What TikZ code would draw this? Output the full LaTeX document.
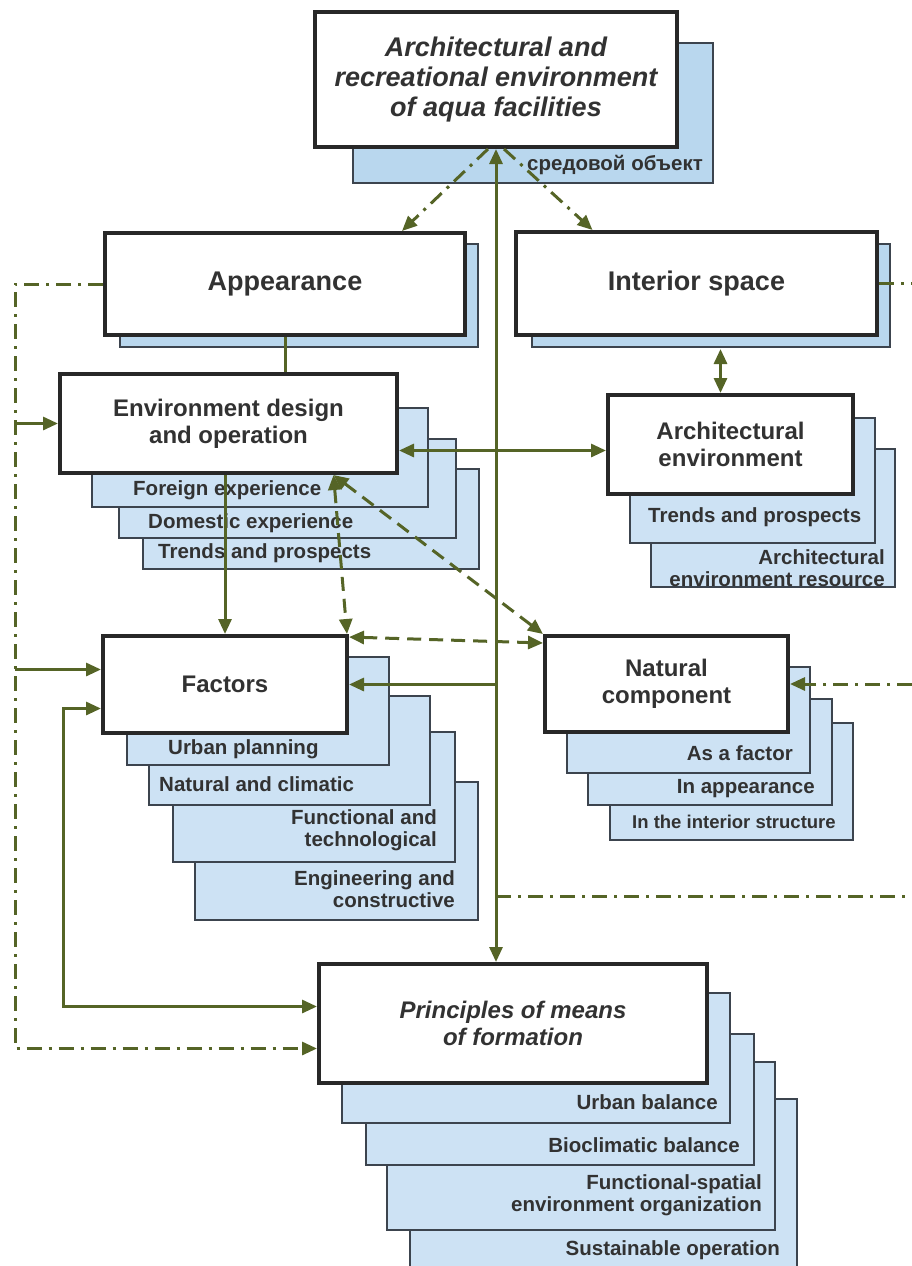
\documentclass[tikz,border=0pt]{standalone}
\usepackage{fontspec}
\setmainfont{Liberation Sans}
\usetikzlibrary{arrows.meta}

\definecolor{linegreen}{RGB}{85,100,38}
\definecolor{boxedge}{RGB}{40,40,40}
\definecolor{subedge}{RGB}{60,68,78}
\definecolor{shadeblue}{RGB}{185,215,238}
\definecolor{paleblue}{RGB}{205,226,244}
\definecolor{inkgray}{RGB}{50,50,50}

\newcommand{\sizeL}{\fontsize{27}{30}\selectfont}
\newcommand{\sizeM}{\fontsize{24}{27}\selectfont}
\newcommand{\sizeS}{\fontsize{20.5}{22}\selectfont}

\begin{document}
\begin{tikzpicture}[x=1pt,y=-1pt]
\tikzstyle{mainbox} = [rectangle, draw=boxedge, line width=4pt, fill=white,
text=inkgray, align=center, inner sep=0pt, font=\bfseries\sizeM]
\tikzstyle{subbox} = [draw=subedge, line width=2pt, fill=paleblue]
\tikzstyle{shadebox} = [draw=subedge, line width=2pt, fill=shadeblue]
\tikzstyle{subtext} = [text=inkgray, inner sep=0pt, align=right, font=\bfseries\sizeS]
\tikzstyle{link} = [draw=linegreen, line width=3pt, >={Triangle[length=15pt,width=13pt]}]
\tikzstyle{dashlink} = [link, dash pattern=on 14pt off 8pt]
\tikzstyle{dotlink} = [link, dash pattern=on 15pt off 7pt on 3pt off 7pt]

\useasboundingbox (0,0) rectangle (912,1266);

% shadows of the upper boxes
\draw[shadebox] (353,43) rectangle (713,183);
\draw[shadebox] (120,244) rectangle (478,347);
\draw[shadebox] (532,244) rectangle (890,347);

% stacked sheets, back to front
\foreach \xa/\ya/\xb/\yb in {143/469/479/569, 119/439/456/538, 92/408/428/507,
  651/449/895/587, 630/418/875/543,
  195/782/478/920, 173/732/455/862, 149/696/430/805, 127/657/389/765,
  610/723/853/840, 588/699/832/805, 567/667/810/773,
  410/1099/797/1290, 387/1062/775/1230, 366/1034/754/1165, 342/993/730/1123}
  \draw[subbox] (\xa,\ya) rectangle (\xb,\yb);

% main boxes
\node[mainbox, minimum width=362pt, minimum height=135pt, font=\bfseries\itshape\sizeL]
  (aqua) at (496,79.5) {Architectural and\\recreational environment\\of aqua facilities};
\node[mainbox, minimum width=360pt, minimum height=102pt, font=\bfseries\sizeL]
  (look) at (285,284) {Appearance};
\node[mainbox, minimum width=361pt, minimum height=103pt, font=\bfseries\sizeL]
  (inner) at (696.5,283.5) {Interior space};
\node[mainbox, minimum width=337pt, minimum height=99pt]
  (design) at (228.5,423.5) {Environment design\\and operation};
\node[mainbox, minimum width=245pt, minimum height=99pt]
  (archenv) at (730.5,444.5) {Architectural\\environment};
\node[mainbox, minimum width=244pt, minimum height=97pt]
  (factors) at (225,684.5) {Factors};
\node[mainbox, minimum width=243pt, minimum height=96pt]
  (nature) at (666.5,684) {Natural\\component};
\node[mainbox, minimum width=388pt, minimum height=119pt, font=\bfseries\itshape\sizeM]
  (means) at (513,1023.5) {Principles of means\\of formation};

% sheet labels
\node[subtext, anchor=east] (objlabel) at (703,165) {средовой объект};
\node[subtext, anchor=west] (foreign) at (133,490) {Foreign experience};
\node[subtext, anchor=west] (domestic) at (148,523) {Domestic experience};
\node[subtext, anchor=west] (trendsA) at (158,553) {Trends and prospects};
\node[subtext, anchor=west] (trendsB) at (648,517) {Trends and prospects};
\node[subtext, anchor=east] (resource) at (885,568) {Architectural\\environment resource};
\node[subtext, anchor=west] (urban) at (168,749) {Urban planning};
\node[subtext, anchor=west] (climate) at (159,784) {Natural and climatic};
\node[subtext, anchor=east] (functech) at (437,830) {Functional and\\technological};
\node[subtext, anchor=east] (engcon) at (455,889) {Engineering and\\constructive};
\node[subtext, anchor=east] (asfactor) at (793,753) {As a factor};
\node[subtext, anchor=east] (inlook) at (815,789) {In appearance};
\node[subtext, anchor=west, font=\bfseries\fontsize{18.5}{20}\selectfont]
  (instruct) at (632,822) {In the interior structure};
\node[subtext, anchor=east] (urbbal) at (718,1102) {Urban balance};
\node[subtext, anchor=east] (bioclim) at (740,1145) {Bioclimatic balance};
\node[subtext, anchor=east] (funcspat) at (762,1195) {Functional-spatial\\environment organization};
\node[subtext, anchor=east] (sustain) at (780,1250) {Sustainable operation};

% rails
\coordinate (leftrail) at (15,0);
\coordinate (looprail) at (63,0);
\coordinate (rightrail) at (912,0);
\coordinate (lowdash) at (912,896);

% connectors
\draw[link,<->] (aqua.south) -- (aqua.south |- means.north);
\draw[dotlink,->] ([xshift=-8pt]aqua.south) -- ([xshift=117pt]look.north);
\draw[dotlink,->] ([xshift=8pt]aqua.south) -- ([xshift=-104pt]inner.north);
\draw[link] (look.south) -- (look.south |- design.north);
\draw[link,<->] ([xshift=-10pt,yshift=-12pt]inner.south -| archenv.north) -- ([xshift=-10pt]archenv.north);
\draw[link,<->] ([yshift=-27pt]design.east) -- ([yshift=-27pt]design.east -| archenv.west);
\draw[link,->] (factors.east -| aqua.south) -- (factors.east);
\draw[link,->] (design.south -| factors.north) -- (factors.north);
\draw[dashlink,<->] ([xshift=105pt]design.south) -- ([xshift=-2pt]factors.north east);
\draw[dashlink,<->] ([xshift=105pt]design.south) -- (nature.north west);
\draw[dashlink,<->] ([yshift=-3pt]factors.north east) -- ([yshift=-9pt]nature.north west);

\draw[dotlink,->] (look.west) -| ([yshift=-25pt]means.west -| leftrail) -- ([yshift=-25pt]means.west);
\draw[link,->] (design.west -| leftrail) -- (design.west);
\draw[link,->] ([yshift=15pt]factors.west -| leftrail) -- ([yshift=15pt]factors.west);
\draw[link,<->] ([yshift=-24pt]factors.west) -| ([yshift=17pt]means.west -| looprail) -- ([yshift=17pt]means.west);

\draw[dotlink] (inner.east) -- (inner.east -| rightrail);
\draw[dotlink,->] (nature.east -| rightrail) -- (nature.east);
\draw[dotlink] (lowdash -| aqua.south) -- (lowdash);

\end{tikzpicture}
\end{document}
